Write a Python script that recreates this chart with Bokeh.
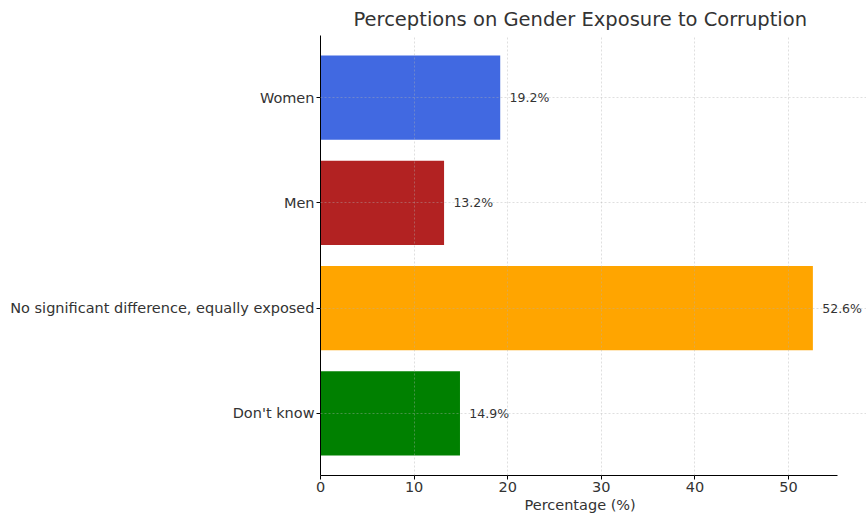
from bokeh.plotting import figure
from bokeh.models import Range1d, FixedTicker, ColumnDataSource, LabelSet, Title
from bokeh.core.properties import value
from bokeh.embed import file_html
from bokeh.resources import INLINE

categories = ["Women", "Men", "No significant difference, equally exposed", "Don't know"]
values = [19.2, 13.2, 52.6, 14.9]
colors = ["#4169E1", "#B22222", "#FFA500", "#008000"]
x_ticks = [0, 10, 20, 30, 40, 50]

n = len(categories)
ypos = [n - 1 - i for i in range(n)]
labels = [f"{v:.1f}%" for v in values]
src = ColumnDataSource(dict(y=ypos, v=values, c=colors, lab=labels,
                            lx=[v + 1.0 for v in values]))

FONT = "DejaVu Sans"
xmax = max(values) * 1.05          # axis limit (matplotlib-style 5% margin)
axes_px = 517                       # pixel width of the drawn axes
px_per_unit = axes_px / xmax
frame_px = 546                      # extra room at the right for the outside label
x_end = frame_px / px_per_unit

p = figure(frame_width=frame_px, frame_height=440, output_backend="svg", toolbar_location=None,
           x_range=Range1d(0, x_end), y_range=Range1d(-0.59, n - 1 + 0.59),
           min_border_left=320, min_border_right=0, min_border_top=29, min_border_bottom=0,
           title="Perceptions on Gender Exposure to Corruption")

p.hbar(y="y", right="v", left=0, height=0.8, fill_color="c", line_color=None, source=src)
p.add_layout(LabelSet(x="lx", y="y", text="lab", source=src, text_align="left",
                      text_baseline="middle", text_font_size="12.5px",
                      text_color="#333333", text_font=value(FONT)))

p.title.align = "left"
p.title.offset = 33
p.title.text_font = FONT
p.title.text_font_size = "19.5px"
p.title.text_font_style = "normal"
p.title.text_color = "#333333"

p.outline_line_color = None
p.background_fill_color = "white"
p.border_fill_color = "white"

p.xaxis.ticker = FixedTicker(ticks=x_ticks)
p.xaxis.bounds = (0, xmax)

# x-axis label, centred under the drawn axes (not under the wider frame)
p.add_layout(Title(text="Percentage (%)", align="left", offset=204, standoff=1,
                   text_font=FONT, text_font_size="14.5px", text_font_style="normal",
                   text_color="#333333"), "below")

p.yaxis.ticker = FixedTicker(ticks=ypos)
p.yaxis.major_label_overrides = {y: c for y, c in zip(ypos, categories)}

for ax in (p.xaxis, p.yaxis):
    ax.major_label_text_font = FONT
    ax.major_label_text_font_size = "14.5px"
    ax.major_label_text_color = "#333333"
    ax.minor_tick_line_color = None
    ax.major_tick_in = 0
    ax.major_tick_out = 4
    ax.major_label_standoff = 2
    ax.axis_line_color = "black"
    ax.major_tick_line_color = "black"

for g in (p.xgrid, p.ygrid):
    g.grid_line_color = "#b0b0b0"
    g.grid_line_alpha = 0.5
    g.grid_line_dash = "2 2"
    g.grid_line_width = 0.8
    g.level = "overlay"

p.xgrid.ticker = FixedTicker(ticks=x_ticks)
p.ygrid.ticker = FixedTicker(ticks=ypos)
p.ygrid.bounds = (0, xmax)

open("out.html", "w").write(file_html(p, INLINE))
